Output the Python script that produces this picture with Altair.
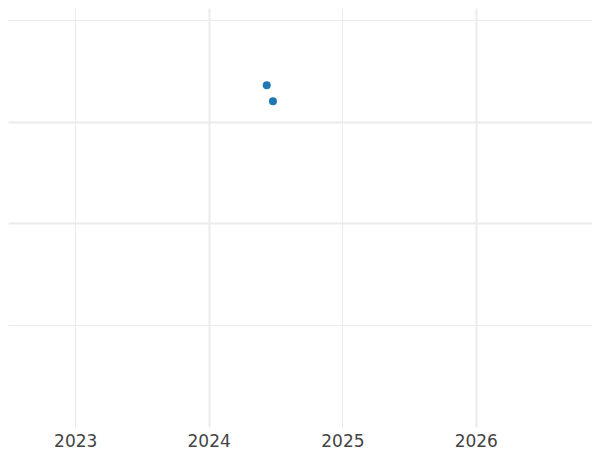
import altair as alt
import pandas as pd

# data
dates = ["2024-06-08", "2024-06-25"]
values = [235.7, 220.0]

x_domain = ["2022-07-01", "2026-11-15"]
y_domain = [-100.3, 311.7]
y_grid = [0, 100, 200, 300]
year_ticks = ["2023-01-01", "2024-01-01", "2025-01-01", "2026-01-01"]

df = pd.DataFrame({"date": pd.to_datetime(dates), "value": values})

x_enc = alt.X(
    "date:T",
    scale=alt.Scale(domain=x_domain),
    axis=alt.Axis(
        title=None,
        format="%Y",
        values=[pd.Timestamp(d).isoformat() for d in year_ticks],
        domain=False,
        ticks=False,
        tickSize=0,
        labelPadding=6,
        labelFontSize=17,
        labelFont="DejaVu Sans",
        labelColor="#444444",
        grid=True,
        gridColor="#ebebeb",
        gridWidth={"condition": {"test": "year(datum.value) % 2 == 0", "value": 2}, "value": 1},
    ),
)
y_enc = alt.Y(
    "value:Q",
    scale=alt.Scale(domain=y_domain, nice=False, zero=False),
    axis=alt.Axis(
        title=None,
        labels=False,
        ticks=False,
        domain=False,
        values=y_grid,
        grid=True,
        gridColor="#ebebeb",
        gridWidth={"condition": {"test": "datum.value == 100 || datum.value == 200", "value": 2}, "value": 1},
    ),
)

chart = (
    alt.Chart(df)
    .mark_circle(size=64, opacity=1, color="#1f77b4")
    .encode(x=x_enc, y=y_enc)
    .properties(
        width=584,
        height=419,
        autosize=alt.AutoSizeParams(type="none"),
        padding={"left": 0, "top": 0, "right": 0, "bottom": 25},
        background="white",
    )
    .configure_view(stroke=None)
)

chart.save("out.html", embed_options={"renderer": "svg", "actions": False})
